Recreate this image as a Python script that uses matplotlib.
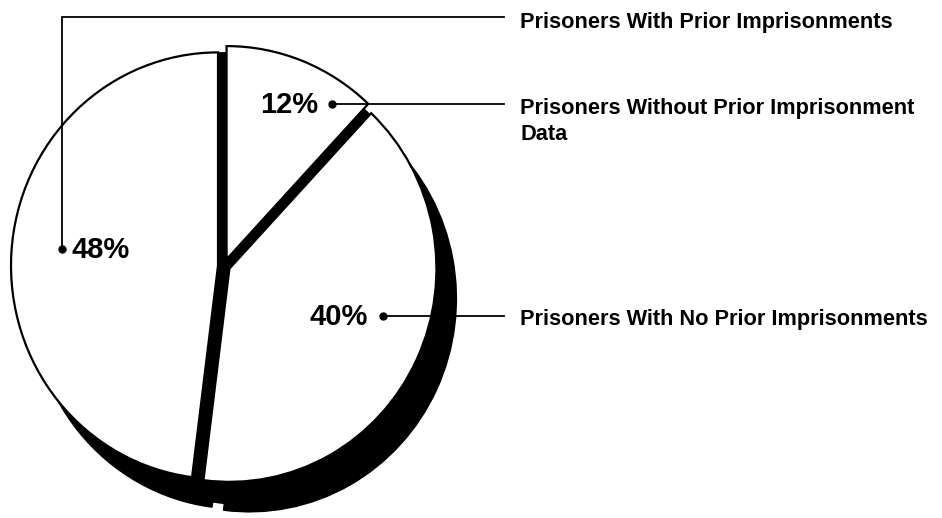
"""
Pie chart of prisoners by prior imprisonment, drawn with a black drop shadow
and callout lines to labels on the right.
"""

# -----------------------------------------------------------------------------
# imports

import matplotlib.pyplot as plt

# -----------------------------------------------------------------------------
# data

shares = [12, 40, 48]
pct_labels = ['12%', '40%', '48%']
categories = [
    'Prisoners Without Prior Imprisonment\nData',
    'Prisoners With No Prior Imprisonments',
    'Prisoners With Prior Imprisonments',
]

# -----------------------------------------------------------------------------
# layout, in pixels with y growing downward (the y axes are inverted below)

W, H = 942, 518
CENTER = (224, 266)
RADIUS = 207                  # horizontal radius in pixels
YSCALE = 1.03                 # pie is slightly taller than wide
EXPLODE = [7, 6, 6]           # pie() takes these in data units
SHADOW_OFFSET = (20, 30)

# dot positions for each slice, and where the percentage text sits
dots = [(332, 104), (383, 316), (62, 249)]
pct_pos = [(318, 113, 'right'), (368, 325, 'right'), (71, 258, 'left')]
LINE_END_X = 504
LABEL_X = 520
label_baselines = [140, 325, 28]   # baseline of the last line of each label
TOP_RAIL_Y = 17

# -----------------------------------------------------------------------------

plt.rcParams['font.family'] = ['Liberation Sans', 'DejaVu Sans']

fig = plt.figure(figsize=(W / 100, H / 100), dpi=100)

# pie axes: one data unit in y is YSCALE pixels, so circles come out as ellipses
ax_pie = fig.add_axes([0, 0, 1, 1])
# callout axes on top, plain pixel coordinates
ax = fig.add_axes([0, 0, 1, 1])


def to_pie(x, y):
    return (x, y / YSCALE)


# with y inverted, counterclock=True from -90 runs clockwise from the top
pie_kw = dict(explode=EXPLODE, radius=RADIUS, startangle=-90,
              counterclock=True, frame=True)
center = to_pie(*CENTER)
shadow_center = to_pie(CENTER[0] + SHADOW_OFFSET[0],
                       CENTER[1] + SHADOW_OFFSET[1])

# shadow: the same pie pushed down-right, all black, with a disk behind it so
# only a small notch of the gaps shows at the rim
ax_pie.pie(shares, center=shadow_center, colors=['black'] * 3,
           wedgeprops=dict(edgecolor='black', linewidth=1), **pie_kw)
ax_pie.pie([1], center=shadow_center, radius=RADIUS - 4, colors=['black'],
           frame=True, wedgeprops=dict(linewidth=0))

# black disk behind the slices so the gaps between them read as solid black
ax_pie.pie([1], center=center, radius=RADIUS, colors=['black'], frame=True,
           wedgeprops=dict(edgecolor='black', linewidth=1))

# the white slices
ax_pie.pie(shares, center=center, colors=['white'] * 3,
           wedgeprops=dict(edgecolor='black', linewidth=1.6), **pie_kw)

ax_pie.set_xlim(0, W)
ax_pie.set_ylim(H / YSCALE, 0)
ax_pie.set_aspect('auto')
ax_pie.axis('off')

# callouts
for i, (dx, dy) in enumerate(dots):
    if i == 2:
        ax.plot([dx, dx, LINE_END_X], [dy, TOP_RAIL_Y, TOP_RAIL_Y],
                color='black', lw=1.3, solid_joinstyle='miter')
    else:
        ax.plot([dx, LINE_END_X], [dy, dy], color='black', lw=1.3)
    ax.plot(dx, dy, 'o', color='black', ms=5)

    px, py, ha = pct_pos[i]
    ax.text(px, py, pct_labels[i], ha=ha, va='baseline',
            fontsize=21, fontweight='bold')

    ax.text(LABEL_X, label_baselines[i], categories[i], ha='left',
            va='baseline', fontsize=15.7, fontweight='bold', linespacing=1.3)

ax.set_xlim(0, W)
ax.set_ylim(H, 0)
ax.axis('off')

fig.savefig('out.png', dpi=100, facecolor='white')
